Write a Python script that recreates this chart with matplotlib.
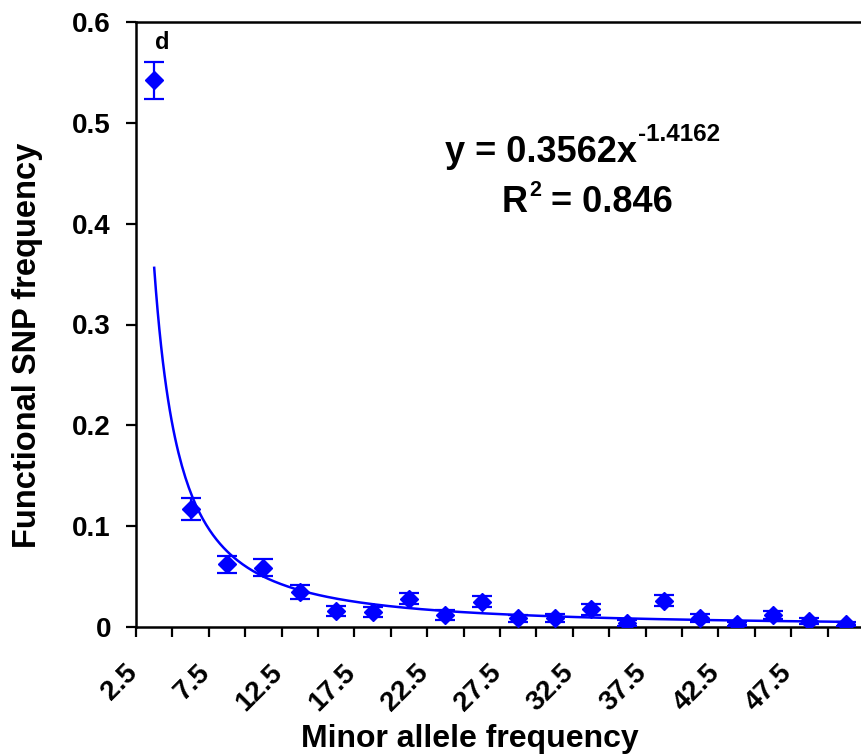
import numpy as np
import matplotlib
matplotlib.use("Agg")
import matplotlib.pyplot as plt
from matplotlib.transforms import ScaledTranslation

plt.rcParams['font.family'] = ['Liberation Sans', 'DejaVu Sans']
plt.rcParams['font.weight'] = 'bold'

maf_labels = ["2.5", "7.5", "12.5", "17.5", "22.5", "27.5", "32.5", "37.5", "42.5", "47.5"]
freq = [0.542, 0.117, 0.062, 0.059, 0.035, 0.016, 0.015, 0.028, 0.012, 0.025,
        0.0085, 0.0085, 0.0175, 0.0035, 0.026, 0.0085, 0.003, 0.012, 0.0063, 0.003]
err = [0.018, 0.011, 0.008, 0.008, 0.007, 0.0046, 0.005, 0.0055, 0.0047, 0.0053,
       0.0037, 0.004, 0.0055, 0.003, 0.0055, 0.004, 0.002, 0.004, 0.003, 0.002]
fit_a = 0.3562
fit_b = -1.4162

W, H = 862, 755
fig = plt.figure(figsize=(W / 100, H / 100), dpi=100)
ax = fig.add_axes([136/W, 1-627/H, 728/W, 605/H])

n = len(freq)
x = np.arange(n) + 0.5
color = (0, 0, 1)

xs = np.linspace(0.5, n - 0.5, 400)
ax.plot(xs, fit_a * (xs + 0.5) ** fit_b, color=color, lw=1.8, zorder=2)
ax.errorbar(x, freq, yerr=err, fmt='D', color=color, ms=9, elinewidth=1.6,
            capsize=7, capthick=1.6, zorder=3)

ax.set_xlim(0, n)
ax.set_ylim(0, 0.6)
ax.set_yticks([0, 0.1, 0.2, 0.3, 0.4, 0.5, 0.6])
ax.set_yticklabels(["0", "0.1", "0.2", "0.3", "0.4", "0.5", "0.6"], fontsize=20, fontweight='bold')
ax.set_xticks(np.arange(0, n))
xlabels = []
for m in maf_labels:
    xlabels += [m, ""]
ax.set_xticklabels(xlabels, fontsize=20, fontweight='bold', rotation=45, ha='right',
                   rotation_mode='anchor')
ax.tick_params(axis='both', direction='out', length=7, width=1.6, colors='black')
ax.tick_params(axis='y', pad=11)
ax.tick_params(axis='x', pad=14)
shift = ScaledTranslation(-12 / 100, -3 / 100, fig.dpi_scale_trans)
for lbl in ax.get_xticklabels():
    lbl.set_transform(lbl.get_transform() + shift)

for s in ['left', 'bottom', 'top']:
    ax.spines[s].set_linewidth(1.8)
ax.spines['right'].set_visible(False)

def px(xp, yp):
    return xp / W, 1 - yp / H

fig.text(*px(470, 746.5), "Minor allele frequency", fontsize=23, fontweight='bold',
         ha='center', va='baseline')
fig.text(*px(28, 345), "Functional SNP frequency", fontsize=23.5, fontweight='bold',
         ha='center', va='center', rotation=90)

fig.text(*px(162, 49), "d", fontsize=17, fontweight='bold', ha='center', va='baseline')

fig.canvas.draw()
r = fig.canvas.get_renderer()

t1 = fig.text(*px(445, 161.7), "y = 0.3562x", fontsize=26, fontweight='bold',
              ha='left', va='baseline')
e1 = t1.get_window_extent(r)
fig.text((e1.x1 + 1) / W, 1 - 140.7 / H, "-1.4162", fontsize=17.5, fontweight='bold',
         ha='left', va='baseline')

t2 = fig.text(*px(502, 212.3), "R", fontsize=26, fontweight='bold', ha='left', va='baseline')
e2 = t2.get_window_extent(r)
t3 = fig.text((e2.x1 + 1) / W, 1 - 195.7 / H, "2", fontsize=15.5, fontweight='bold',
              ha='left', va='baseline')
e3 = t3.get_window_extent(r)
fig.text(e3.x1 / W, 1 - 212.3 / H, " = 0.846", fontsize=26, fontweight='bold',
         ha='left', va='baseline')

fig.savefig("out.png", dpi=100)
